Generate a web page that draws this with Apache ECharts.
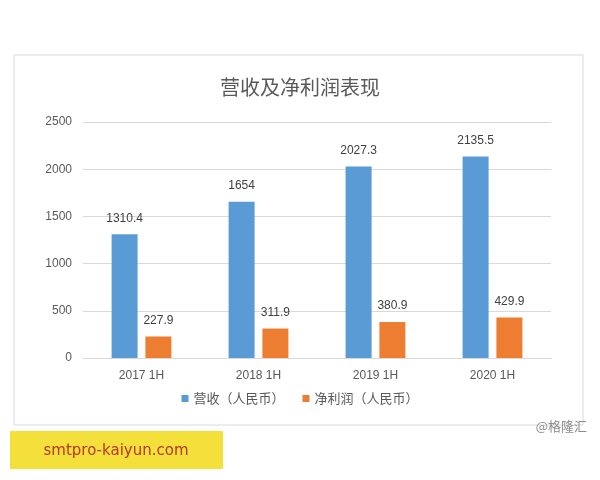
<!DOCTYPE html>
<html><head><meta charset="utf-8">
<script src="https://cdn.jsdelivr.net/npm/echarts@6/dist/echarts.min.js"></script>
<style>html,body{margin:0;padding:0;background:#fff;}#c{width:600px;height:480px;}</style>
</head><body><div id="c"></div>
<script>
const categories = ['2017 1H', '2018 1H', '2019 1H', '2020 1H'];
const revenue = [1310.4, 1654, 2027.3, 2135.5];
const netProfit = [227.9, 311.9, 380.9, 429.9];
const seriesNames = ['营收（人民币）', '净利润（人民币）'];
const titleText = '营收及净利润表现';

const chart = echarts.init(document.getElementById('c'));
const lbl = {show: true, position: 'top', distance: 10, color: '#404040', fontSize: 12, fontFamily: 'Liberation Sans, Arial, sans-serif'};
chart.setOption({
  animation: false,
  graphic: [
    {type: 'rect', shape: {x: 14, y: 55, width: 569, height: 370}, style: {fill: 'none', stroke: '#d9d9d9', lineWidth: 1}},
    {type: 'rect', shape: {x: 10, y: 431, width: 213, height: 38}, style: {fill: '#f3e03b'}},
    {type: 'text', x: 116, y: 451, style: {text: 'smtpro-kaiyun.com', fill: '#b8362a', font: '15px "DejaVu Sans", sans-serif', textAlign: 'center', textVerticalAlign: 'middle'}},
    {type: 'text', x: 587, y: 426, style: {text: '@格隆汇', fill: '#8c8c8c', font: '13px "Noto Sans CJK SC"', textAlign: 'right', textVerticalAlign: 'middle'}}
  ],
  title: {text: titleText, left: 'center', top: 72, textStyle: {fontSize: 20, fontWeight: 'normal', color: '#595959', fontFamily: 'Noto Sans CJK SC'}},
  legend: {bottom: 70, left: 'center', itemWidth: 7, itemHeight: 7, itemGap: 18, icon: 'rect',
    textStyle: {fontSize: 13, color: '#595959', fontFamily: 'Noto Sans CJK SC'}, data: seriesNames},
  grid: {left: 83, right: 49, top: 122, bottom: 122, containLabel: false},
  xAxis: {type: 'category', data: categories,
    axisLine: {lineStyle: {color: '#d9d9d9'}}, axisTick: {show: false},
    axisLabel: {color: '#595959', fontSize: 12, margin: 12, fontFamily: 'Liberation Sans, Arial, sans-serif'}},
  yAxis: {type: 'value', min: 0, max: 2500, interval: 500,
    axisLine: {show: false}, axisTick: {show: false},
    splitLine: {lineStyle: {color: '#d9d9d9'}},
    axisLabel: {color: '#595959', fontSize: 12, margin: 11, formatter: v => String(v), fontFamily: 'Liberation Sans, Arial, sans-serif'}},
  series: [
    {name: seriesNames[0], type: 'bar', data: revenue, barWidth: 26, barGap: '30%', itemStyle: {color: '#5b9bd5'}, label: lbl},
    {name: seriesNames[1], type: 'bar', data: netProfit, barWidth: 26, itemStyle: {color: '#ed7d31'}, label: lbl}
  ]
});
</script></body></html>
